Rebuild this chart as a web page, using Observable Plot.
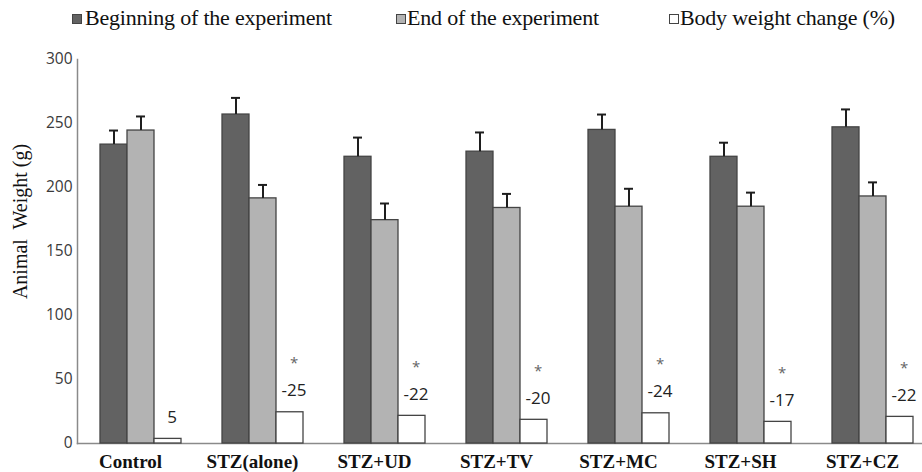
<!DOCTYPE html>
<html>
<head>
<meta charset="utf-8">
<script src="https://cdn.jsdelivr.net/npm/d3@7"></script>
<script src="https://cdn.jsdelivr.net/npm/@observablehq/plot@0.6"></script>
<style>
  html, body { margin: 0; padding: 0; background: #fff; }
  #wrap { width: 922px; height: 472px; overflow: hidden; }
  #legend { position: relative; width: 922px; height: 38px; font-family: "Liberation Serif", "Times New Roman", serif; font-size: 22px; line-height: 22px; color: #111; letter-spacing: -0.2px; }
  #legend .sw { position: absolute; top: 14px; width: 8px; height: 8px; border: 1px solid #444; }
  #legend .tx { position: absolute; top: 7px; white-space: nowrap; }
  svg { display: block; }
</style>
</head>
<body>
<div id="wrap">
  <div id="legend"></div>
  <div id="chart"></div>
</div>
<script>
const groups = ["Control", "STZ(alone)", "STZ+UD", "STZ+TV", "STZ+MC", "STZ+SH", "STZ+CZ"];
const series = ["Beginning of the experiment", "End of the experiment", "Body weight change (%)"];
const seriesColors = ["#626262", "#b3b3b3", "#ffffff"];
const beginning = [233.5, 257, 224, 228, 245, 224, 247];
const beginningErr = [11, 13, 15, 15, 12, 11, 14];
const ending = [244.5, 191.5, 174.5, 184, 185, 185, 193];
const endingErr = [11, 10.5, 13, 11, 14, 11, 11];
const changeBar = [3.6, 24.4, 21.6, 18.5, 23.6, 16.9, 20.8];
const changeLabel = ["5", "-25", "-22", "-20", "-24", "-17", "-22"];
const significant = [false, true, true, true, true, true, true];
const yTicks = [0, 50, 100, 150, 200, 250, 300];
const yLabel = "Animal\u00a0 Weight (g)";

// legend (HTML, above the SVG)
const legendPos = [[72, 85], [396, 407], [669, 680]];
const legend = document.getElementById("legend");
series.forEach((s, i) => {
  const sw = document.createElement("div");
  sw.className = "sw";
  sw.style.left = legendPos[i][0] + "px";
  sw.style.background = seriesColors[i];
  legend.appendChild(sw);
  const tx = document.createElement("div");
  tx.className = "tx";
  tx.style.left = legendPos[i][1] + "px";
  tx.textContent = s;
  legend.appendChild(tx);
});

const bars = [];
groups.forEach((g, i) => {
  bars.push({group: g, series: series[0], value: beginning[i], err: beginningErr[i]});
  bars.push({group: g, series: series[1], value: ending[i], err: endingErr[i]});
  bars.push({group: g, series: series[2], value: changeBar[i], err: null, label: changeLabel[i], sig: significant[i]});
});
const withErr = bars.filter(d => d.err != null);
const changes = bars.filter(d => d.err == null);
const stars = changes.filter(d => d.sig);

// the facet area starts at the first group; the axis sits this far to its left
const axisShift = -22;

const chart = Plot.plot({
  width: 922,
  height: 434,
  marginLeft: 77,
  marginRight: -12.5,
  marginTop: 21,
  marginBottom: 29,
  fx: {domain: groups, paddingInner: 0.327, paddingOuter: 0.163, label: null},
  x: {domain: series, padding: 0, axis: null},
  y: {domain: [0, 300], axis: null},
  color: {domain: series, range: seriesColors},
  style: {fontFamily: "'Open Sans', sans-serif", background: "#fff"},
  marks: [
    Plot.frame({anchor: "bottom", facet: "super", stroke: "#8a8a8a", strokeWidth: 1.5, insetLeft: axisShift, insetRight: -12}),
    Plot.barY(bars, {fx: "group", x: "series", y: "value", fill: "series", stroke: "#444", strokeWidth: 1.3}),
    Plot.ruleX(withErr, {fx: "group", x: "series", y1: "value", y2: d => d.value + d.err, stroke: "#1e1e1e", strokeWidth: 2}),
    Plot.tickY(withErr, {fx: "group", x: "series", y: d => d.value + d.err, stroke: "#1e1e1e", strokeWidth: 2, insetLeft: 9, insetRight: 9}),
    Plot.text(changes, {fx: "group", x: "series", y: "value", text: "label", lineAnchor: "bottom", dy: -16, dx: 4, fontSize: 17, fill: "#222", fontFamily: "'Open Sans', sans-serif"}),
    Plot.text(stars, {fx: "group", x: "series", y: "value", text: () => "*", lineAnchor: "bottom", dy: -44, dx: 4, fontSize: 15, fill: "#666"}),
    Plot.frame({anchor: "left", facet: "super", stroke: "#8a8a8a", strokeWidth: 1.5, dx: axisShift}),
    Plot.axisY({ticks: yTicks, tickSize: 0, tickPadding: 5, label: null, dx: axisShift, fontSize: 15.5, fill: "#3a3a3a", fontFamily: "'Open Sans', sans-serif"}),
    Plot.axisFx({anchor: "bottom", tickSize: 0, tickPadding: 11, label: null, dx: -10, fontSize: 19, fontWeight: "bold", fontFamily: "'Liberation Serif', 'Times New Roman', serif", fill: "#111"}),
    Plot.text([yLabel], {text: d => d, frameAnchor: "left", textAnchor: "middle", lineAnchor: "middle", rotate: -90, dx: -79, dy: -30, facet: "super", fontSize: 20, fill: "#111", fontFamily: "'Liberation Serif', 'Times New Roman', serif"})
  ]
});
document.getElementById("chart").appendChild(chart);
</script>
</body>
</html>
